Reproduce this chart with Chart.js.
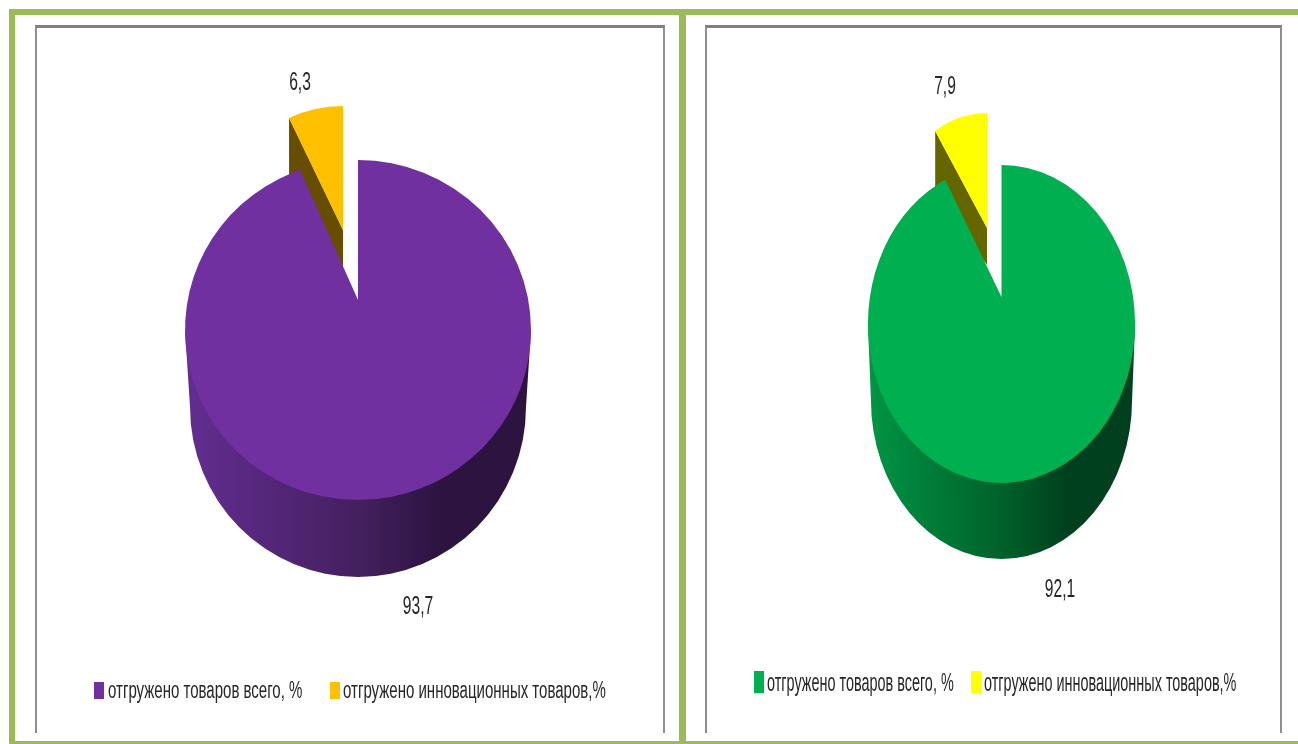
<!DOCTYPE html>
<html>
<head>
<meta charset="utf-8">
<title>Отгружено товаров</title>
<script src="https://cdn.jsdelivr.net/npm/chart.js@4/dist/chart.umd.min.js"></script>
<style>
  html, body { margin: 0; padding: 0; background: #fff; }
  body { position: relative; width: 1298px; height: 744px; overflow: hidden; }
  .rule { position: absolute; background: #9bbb59; }
  .box { position: absolute; box-sizing: border-box; border: 2px solid #8e8e8e; border-top: 3px solid #7f7f7f; border-bottom: 0; }
  canvas { position: absolute; }
  .key { position: absolute; }
  .key-text { position: absolute; white-space: nowrap; color: #262626; transform-origin: 0 50%; font-family: "Liberation Sans", sans-serif; line-height: 1; }
</style>
</head>
<body>
<div class="rule" style="left:9px;top:9px;width:1289px;height:6px"></div>
<div class="rule" style="left:9px;top:9px;width:6px;height:735px"></div>
<div class="rule" style="left:679px;top:9px;width:7px;height:735px"></div>
<div class="rule" style="left:9px;top:741px;width:1289px;height:3px"></div>
<div class="box" style="left:35px;top:25px;width:630px;height:708px"></div>
<div class="box" style="left:705px;top:25px;width:577px;height:708px"></div>
<canvas id="chartLeft" width="628" height="705" style="left:37px;top:28px"></canvas>
<canvas id="chartRight" width="573" height="705" style="left:707px;top:28px"></canvas>
<script>
// ── Data ──
const categories = ['отгружено товаров всего, %', 'отгружено инновационных товаров,%'];
const valuesLeft = [93.7, 6.3];
const valuesRight = [92.1, 7.9];

// ── Fake 3D pie: the library draws the slices, this adds depth and tilt ──
const pie3d = {
    id: 'pie3d',
    afterDatasetsUpdate(chart, args, o) {
        const arcs = chart.getDatasetMeta(0).data;
        arcs.forEach(a => { a.x = o.cx; a.y = o.cy; });
        // pulled out slice
        const s = arcs[1];
        s.x += o.pullX / o.sx;
        s.y += o.pullY;
        s.outerRadius = o.pullRadius;
        s.startAngle -= o.pullLean;
    },
    beforeDatasetsDraw(chart, args, o) {
        const ctx = chart.ctx;
        const main = chart.getDatasetMeta(0).data[0];
        const s = chart.getDatasetMeta(0).data[1];
        const rx = main.outerRadius * o.sx, ry = main.outerRadius;
        const rx2 = rx - o.shrink, cy2 = o.cy + o.depth;

        // cylinder wall
        const grad = ctx.createLinearGradient(o.cx - rx2, 0, o.cx + rx2, 0);
        o.wall.forEach(w => grad.addColorStop(w[0], w[1]));
        ctx.fillStyle = grad;
        ctx.beginPath();
        ctx.moveTo(o.cx - rx, o.cy);
        ctx.lineTo(o.cx - rx2, cy2);
        ctx.ellipse(o.cx, cy2, rx2, ry, 0, Math.PI, 0, true);
        ctx.lineTo(o.cx + rx, o.cy);
        ctx.closePath();
        ctx.fill();

        ctx.save();
        ctx.translate(o.cx, 0);
        ctx.scale(o.sx, 1);
        ctx.translate(-o.cx, 0);

        // side face of the pulled slice
        const px = s.x + s.outerRadius * Math.cos(s.startAngle);
        const py = s.y + s.outerRadius * Math.sin(s.startAngle);
        ctx.fillStyle = o.sideColor;
        ctx.beginPath();
        ctx.moveTo(px, py);
        ctx.lineTo(s.x, s.y);
        ctx.lineTo(s.x, s.y + o.sideInner);
        ctx.lineTo(px, py + o.sideOuter);
        ctx.closePath();
        ctx.fill();
    },
    afterDatasetsDraw(chart, args, o) {
        const ctx = chart.ctx;
        const a = chart.getDatasetMeta(0).data[0];
        // the tilt moves the tip of the notch above the centre of the ellipse
        const end = a.endAngle + o.notchLean;
        const tipY = a.y - o.notchLift;
        ctx.fillStyle = a.options.backgroundColor;
        ctx.beginPath();
        ctx.moveTo(a.x, tipY);
        ctx.lineTo(a.x + a.outerRadius * Math.cos(end), a.y + a.outerRadius * Math.sin(end));
        ctx.arc(a.x, a.y, a.outerRadius, end, a.endAngle - 0.01, true);
        ctx.lineTo(a.x, a.y + 8);       // runs a little into the slice so no seam shows
        ctx.lineTo(a.x + 4, a.y);
        ctx.lineTo(a.x + 4, tipY);
        ctx.closePath();
        ctx.fill();
        ctx.restore();
    },
    afterDraw(chart, args, o) {
        const ctx = chart.ctx;
        const vals = chart.data.datasets[0].data;
        ctx.save();
        ctx.font = '26px "Liberation Sans", sans-serif';
        ctx.fillStyle = '#262626';
        ctx.textAlign = 'center';
        ctx.textBaseline = 'middle';
        vals.forEach((v, i) => {
            ctx.save();
            ctx.translate(o.labels[i][0], o.labels[i][1]);
            ctx.scale(0.6, 1);
            ctx.fillText(String(v).replace('.', ','), 0, 0);
            ctx.restore();
        });
        ctx.restore();
    }
};

function makePie(id, values, colors, pie) {
    return new Chart(document.getElementById(id), {
        type: 'pie',
        data: {
            labels: categories,
            datasets: [{ data: values, backgroundColor: colors, borderWidth: 0, clip: false }]
        },
        options: {
            responsive: false,
            animation: false,
            events: [],
            radius: pie.radius,
            plugins: {
                tooltip: { enabled: false },
                legend: { display: false },
                pie3d: pie
            }
        },
        plugins: [pie3d]
    });
}

// ── Legend: narrow lettering, so built as html from the chart's own legend items ──
function drawKeys(chart, k) {
    const items = chart.options.plugins.legend.labels.generateLabels(chart);
    items.forEach((item, i) => {
        const box = document.createElement('div');
        box.className = 'key';
        box.style.cssText = `left:${k.boxX[i]}px;top:${k.y - k.boxH / 2}px;width:${k.boxW}px;height:${k.boxH}px;background:${item.fillStyle}`;
        document.body.appendChild(box);
        const txt = document.createElement('div');
        txt.className = 'key-text';
        txt.textContent = item.text;
        txt.style.cssText = `left:${k.textX[i]}px;top:${k.y - k.size / 2}px;font-size:${k.size}px;transform:scaleX(${k.squeeze})`;
        document.body.appendChild(txt);
    });
}

// ── Left pie ──
const left = makePie('chartLeft', valuesLeft, ['#7030a0', '#ffc000'], {
    radius: 170, sx: 1.0176, cx: 321, cy: 302, depth: 77, shrink: 5,
    pullX: -15, pullY: -100, pullRadius: 124, pullLean: 0.046,
    notchLift: 30, notchLean: 0.054, sideInner: 38, sideOuter: 60,
    sideColor: '#664d00',
    wall: [[0, '#622d90'], [0.5, '#44205f'], [0.75, '#2c1340'], [1, '#2c1340']],
    labels: [[381, 579], [263, 55]]
});
drawKeys(left, { boxX: [94, 330], textX: [108, 343], y: 690, boxW: 10, boxH: 17, size: 23, squeeze: 0.653 });

// ── Right pie ──
const right = makePie('chartRight', valuesRight, ['#00b050', '#ffff00'], {
    radius: 159, sx: 0.84, cx: 294.5, cy: 296, depth: 76, shrink: 3,
    pullX: -14.5, pullY: -96, pullRadius: 115, pullLean: 0.07,
    notchLift: 27, notchLean: 0.062, sideInner: 37, sideOuter: 59,
    sideColor: '#666600',
    wall: [[0, '#009444'], [0.5, '#006129'], [0.75, '#00401e'], [1, '#00401e']],
    labels: [[353, 562], [238, 59]]
});
drawKeys(right, { boxX: [754, 971], textX: [767, 984], y: 682, boxW: 10, boxH: 22, size: 25, squeeze: 0.577 });
</script>
</body>
</html>
